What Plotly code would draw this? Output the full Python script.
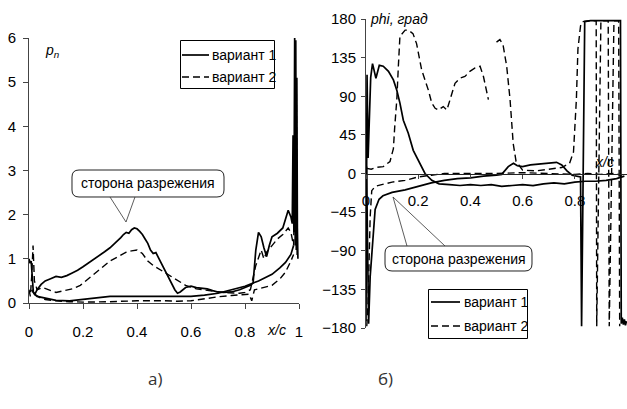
import plotly.graph_objects as go

W, H = 627, 409

# ---------------- data: panel a) p_n vs x/c ----------------
a_v1_upper_x = [0.0, 0.004, 0.008, 0.012, 0.016, 0.022, 0.03, 0.045, 0.06, 0.08, 0.1, 0.12, 0.14, 0.16, 0.18,
                0.2, 0.22, 0.24, 0.26, 0.28, 0.3, 0.32, 0.34, 0.35, 0.36, 0.37, 0.38, 0.39, 0.4, 0.41, 0.42,
                0.43, 0.44, 0.45, 0.46, 0.47, 0.48, 0.5, 0.52, 0.54, 0.55, 0.56, 0.58, 0.6, 0.62, 0.64, 0.66,
                0.68, 0.7, 0.72, 0.75, 0.78, 0.8, 0.82, 0.83, 0.84, 0.85, 0.86, 0.87, 0.88, 0.89, 0.9, 0.92,
                0.94, 0.96, 0.97, 0.975, 0.978, 0.981, 0.984, 0.986, 0.988, 0.99, 0.992, 0.994, 0.996]
a_v1_upper_y = [1.0, 0.9, 0.95, 0.5, 0.25, 0.2, 0.3, 0.42, 0.5, 0.55, 0.6, 0.58, 0.62, 0.68, 0.74,
                0.82, 0.9, 0.98, 1.06, 1.16, 1.25, 1.36, 1.48, 1.55, 1.6, 1.58, 1.66, 1.7, 1.68, 1.62, 1.55,
                1.45, 1.35, 1.2, 1.12, 1.14, 1.02, 0.8, 0.55, 0.3, 0.22, 0.25, 0.35, 0.38, 0.35, 0.33, 0.32,
                0.28, 0.25, 0.24, 0.25, 0.3, 0.35, 0.4, 0.45, 1.2, 1.6, 1.5, 1.25, 1.05, 1.3, 1.5, 1.58,
                1.7, 2.1, 1.95, 1.8, 3.8, 1.6, 6.0, 1.3, 5.95, 1.2, 5.1, 1.7, 1.0]
a_v1_lower_x = [0.01, 0.02, 0.03, 0.05, 0.08, 0.1, 0.15, 0.2, 0.25, 0.3, 0.4, 0.5, 0.6, 0.65, 0.7, 0.75,
                0.8, 0.85, 0.9, 0.93, 0.95, 0.97, 0.98]
a_v1_lower_y = [0.3, 0.2, 0.15, 0.12, 0.08, 0.06, 0.05, 0.08, 0.12, 0.15, 0.15, 0.15, 0.15, 0.18, 0.22, 0.3,
                0.38, 0.5, 0.65, 0.8, 0.92, 1.1, 1.3]
a_v2_upper_x = [0.0, 0.005, 0.01, 0.015, 0.02, 0.03, 0.05, 0.07, 0.1, 0.13, 0.16, 0.19, 0.22, 0.25, 0.28,
                0.3, 0.33, 0.36, 0.38, 0.4, 0.42, 0.44, 0.46, 0.48, 0.5, 0.54, 0.58, 0.62, 0.66, 0.7, 0.74,
                0.78, 0.8, 0.82, 0.84, 0.86, 0.87, 0.88, 0.9, 0.92, 0.94, 0.96, 0.97, 0.98, 0.985, 0.99, 0.993]
a_v2_upper_y = [0.3, 0.15, 0.6, 1.3, 0.5, 0.3, 0.35, 0.3, 0.24, 0.28, 0.32, 0.4, 0.55, 0.7, 0.85,
                0.95, 1.05, 1.15, 1.18, 1.2, 1.12, 0.95, 0.85, 0.78, 0.7, 0.55, 0.4, 0.32, 0.28, 0.25, 0.23,
                0.22, 0.24, 0.3, 0.85, 1.2, 1.0, 1.15, 1.3, 1.45, 1.55, 1.7, 1.6, 1.3, 3.0, 5.0, 1.0]
a_v2_lower_x = [0.02, 0.04, 0.06, 0.1, 0.15, 0.2, 0.3, 0.4, 0.5, 0.55, 0.6, 0.65, 0.7, 0.75, 0.8, 0.815,
                0.825, 0.835, 0.85, 0.9, 0.93, 0.95, 0.97, 0.98]
a_v2_lower_y = [0.2, 0.12, 0.08, 0.05, 0.03, 0.02, 0.03, 0.05, 0.05, 0.04, 0.05, 0.1, 0.14, 0.17, 0.2, 0.2,
                0.05, 0.3, 0.32, 0.4, 0.55, 0.7, 0.95, 1.1]

# ---------------- data: panel б) phi vs x/c ----------------
b_v1_upper_x = [0.0, 0.004, 0.008, 0.012, 0.018, 0.025, 0.038, 0.051, 0.066, 0.086, 0.105, 0.118, 0.13, 0.143,
                0.162, 0.181, 0.207, 0.226, 0.252, 0.28, 0.32, 0.36, 0.4, 0.44, 0.48, 0.52, 0.56, 0.6, 0.64,
                0.68, 0.72, 0.76, 0.8, 0.84, 0.88, 0.92, 0.96, 0.98, 0.99]
b_v1_upper_y = [-172, 115, 18, 70, 112, 128, 111, 126, 125, 119, 109, 97, 82, 62,
                47, 27, 12, 0, -8, -12, -13, -14, -13, -14, -13, -15, -14, -13, -14,
                -12, -11, -12, -10, -9, -9, -8, -6, -4, -3]
b_v1_lower_x = [0.002, 0.006, 0.01, 0.016, 0.022, 0.03, 0.035, 0.05, 0.065, 0.1, 0.15, 0.2, 0.25, 0.3, 0.35,
                0.4, 0.45, 0.5, 0.52, 0.545, 0.565, 0.58, 0.6, 0.63, 0.66, 0.7, 0.73, 0.75, 0.77, 0.79, 0.81,
                0.822, 0.826, 0.838, 0.86, 0.9, 0.94, 0.975, 0.978, 0.982, 0.986, 0.99, 0.994, 0.998]
b_v1_lower_y = [8, -60, -175, -120, -95, -55, -42, -30, -26, -22, -19, -15, -11, -8, -6,
                -5, -3, -2, -1, 8, 12, 9, 8, 10, 11, 12, 13, 10, 3, -2, -3,
                -4, -178, 177, 178, 178, 178, 178, -175, -168, -176, -170, -177, -172]
b_v2_upper1_x = [0.003, 0.02, 0.038, 0.066, 0.092, 0.105, 0.11, 0.118, 0.124, 0.13, 0.15, 0.162, 0.18, 0.194,
                 0.213, 0.226, 0.239, 0.252, 0.265, 0.277, 0.296, 0.31, 0.322, 0.341, 0.36, 0.379, 0.398,
                 0.418, 0.437, 0.45, 0.469]
b_v2_upper1_y = [6, 5, 7, 8, 14, 29, 54, 86, 125, 160, 167, 167, 163, 151,
                 121, 109, 97, 82, 76, 74, 78, 74, 86, 105, 111, 113, 119,
                 123, 125, 113, 86]
b_v2_upper2_x = [0.5, 0.513, 0.525, 0.539, 0.552, 0.564, 0.575, 0.6, 0.65, 0.7, 0.75, 0.78, 0.795, 0.806,
                 0.812, 0.822, 0.83, 0.86, 0.882, 0.884, 0.9, 0.928, 0.932, 0.95, 0.968, 0.972]
b_v2_upper2_y = [153, 156, 150, 125, 86, 35, 14, 4, 3, 5, 7, 12, 25, 86,
                 145, 172, 177, 178, 178, -178, 178, 178, -178, 178, 178, -178]
b_v2_lower_x = [0.003, 0.008, 0.012, 0.016, 0.022, 0.035, 0.06, 0.1, 0.15, 0.2, 0.25, 0.3, 0.4, 0.5, 0.6,
                0.7, 0.8, 0.85, 0.9, 0.95, 0.98]
b_v2_lower_y = [-178, -150, -100, -50, -20, -15, -13, -10, -8, -4, -2, 0, 0, 0, 1,
                0, -1, 0, -1, 0, -2]

a_yticks = [0, 1, 2, 3, 4, 5, 6]
a_xticks = [0, 0.2, 0.4, 0.6, 0.8, 1]
a_xticklabels = ["0", "0.2", "0.4", "0.6", "0.8", "1"]
b_yticks = [180, 135, 90, 45, 0, -45, -90, -135, -180]
b_xticks = [0, 0.2, 0.4, 0.6, 0.8]
b_xticklabels = ["0", "0.2", "0.4", "0.6", "0.8"]
series_names = ["вариант 1", "вариант 2"]


def join(*parts):
    xs, ys = [], []
    for i in range(0, len(parts), 2):
        if xs:
            xs.append(None)
            ys.append(None)
        xs += parts[i]
        ys += parts[i + 1]
    return xs, ys


FONT = "Liberation Sans, Arial, sans-serif"
SOLID = dict(color="black", width=1.7)
DASH = dict(color="black", width=1.4, dash="7px,4px")

fig = go.Figure()
x, y = join(a_v1_upper_x, a_v1_upper_y, a_v1_lower_x, a_v1_lower_y)
fig.add_trace(go.Scatter(x=x, y=y, mode="lines", line=SOLID, name=series_names[0],
                         xaxis="x", yaxis="y", connectgaps=False))
x, y = join(a_v2_upper_x, a_v2_upper_y, a_v2_lower_x, a_v2_lower_y)
fig.add_trace(go.Scatter(x=x, y=y, mode="lines", line=DASH, name=series_names[1],
                         xaxis="x", yaxis="y", connectgaps=False))
x, y = join(b_v1_upper_x, b_v1_upper_y, b_v1_lower_x, b_v1_lower_y)
fig.add_trace(go.Scatter(x=x, y=y, mode="lines", line=SOLID, name=series_names[0],
                         xaxis="x2", yaxis="y2", connectgaps=False))
x, y = join(b_v2_upper1_x, b_v2_upper1_y, b_v2_upper2_x, b_v2_upper2_y, b_v2_lower_x, b_v2_lower_y)
fig.add_trace(go.Scatter(x=x, y=y, mode="lines", line=DASH, name=series_names[1],
                         xaxis="x2", yaxis="y2", connectgaps=False))


def px(x):
    return x / W


def py(y):
    return 1 - y / H


AXC = "#444444"
ydomA = [py(303), py(38)]
ydomB = [py(328), py(19)]
zeroB = (ydomB[0] + ydomB[1]) / 2

axis_font = dict(family=FONT, size=15, color="black")
fig.update_layout(
    width=W, height=H, margin=dict(l=0, r=0, t=0, b=0, autoexpand=False),
    paper_bgcolor="white", plot_bgcolor="rgba(0,0,0,0)",
    font=dict(family=FONT, size=14, color="black"),
    showlegend=False,
    xaxis=dict(domain=[px(29), px(299)], range=[0, 1], anchor="y",
               tickvals=a_xticks, ticktext=a_xticklabels, ticks="outside", ticklen=5,
               tickcolor=AXC, showline=True, linecolor=AXC, linewidth=1, showgrid=False,
               zeroline=False, tickfont=axis_font, ticklabelstandoff=10, automargin=False),
    yaxis=dict(domain=ydomA, range=[0, 6], anchor="x",
               tickvals=a_yticks, ticks="outside", ticklen=5, tickcolor=AXC,
               showline=True, linecolor=AXC, linewidth=1, showgrid=False, zeroline=False,
               tickfont=axis_font, ticklabelstandoff=4, automargin=False),
    xaxis2=dict(domain=[px(366), 1.0], range=[0, 1.0], anchor="free", position=zeroB,
                tickvals=b_xticks, ticktext=b_xticklabels, ticks="outside", ticklen=4,
                tickcolor=AXC, showline=True, linecolor="#222222", linewidth=1, showgrid=False,
                zeroline=False, tickfont=axis_font, ticklabelstandoff=9, automargin=False),
    yaxis2=dict(domain=ydomB, range=[-180, 180], anchor="x2",
                tickvals=b_yticks, ticks="outside", ticklen=4, tickcolor=AXC,
                showline=True, linecolor=AXC, linewidth=1, showgrid=False, zeroline=False,
                tickfont=axis_font, ticklabelstandoff=2, automargin=False),
)


def rrect(x0, y0, x1, y1, r):
    X = lambda v: f"{px(v):.5f}"
    Y = lambda v: f"{py(v):.5f}"
    return (f"M{X(x0 + r)},{Y(y0)} L{X(x1 - r)},{Y(y0)} Q{X(x1)},{Y(y0)} {X(x1)},{Y(y0 + r)} "
            f"L{X(x1)},{Y(y1 - r)} Q{X(x1)},{Y(y1)} {X(x1 - r)},{Y(y1)} "
            f"L{X(x0 + r)},{Y(y1)} Q{X(x0)},{Y(y1)} {X(x0)},{Y(y1 - r)} "
            f"L{X(x0)},{Y(y0 + r)} Q{X(x0)},{Y(y0)} {X(x0 + r)},{Y(y0)} Z")


def poly(points):
    return "M" + " L".join(f"{px(a):.5f},{py(b):.5f}" for a, b in points)


def pline(x0, y0, x1, y1, **kw):
    return dict(type="line", xref="paper", yref="paper", x0=px(x0), y0=py(y0), x1=px(x1), y1=py(y1),
                line=kw, layer="above")


def box(x0, y0, x1, y1):
    fill = dict(type="rect", xref="paper", yref="paper", layer="above",
                x0=px(x0), x1=px(x1), y0=py(y1), y1=py(y0),
                line=dict(width=0), fillcolor="white")
    k = dict(color="black", width=1)
    return [fill,
            pline(x0, y0, x1, y0, **k), pline(x1, y0, x1, y1, **k),
            pline(x1, y1, x0, y1, **k), pline(x0, y1, x0, y0, **k)]


shapes = [
    # callouts
    dict(type="path", xref="paper", yref="paper", path=rrect(72, 170, 224, 197, 7), layer="above",
         line=dict(color="#222222", width=1), fillcolor="white"),
    dict(type="path", xref="paper", yref="paper", path=poly([(110, 197), (126, 222), (135, 197)]),
         line=dict(color="#333333", width=0.8), layer="above"),
    dict(type="path", xref="paper", yref="paper", path=rrect(385, 246, 532, 271, 7), layer="above",
         line=dict(color="#222222", width=1), fillcolor="white"),
    dict(type="path", xref="paper", yref="paper", path=poly([(407, 246), (393, 197), (445, 246)]),
         line=dict(color="#333333", width=0.8), layer="above"),
]
# legend boxes
shapes += box(180.5, 40.5, 274.5, 88.5)
shapes += box(428.5, 289.5, 527.5, 338.5)
# legend samples
shapes += [
    pline(182, 55, 209, 55, color="black", width=1.7),
    pline(182, 77, 209, 77, color="black", width=1.4, dash="7px,4px"),
    pline(431, 302, 460, 302, color="black", width=1.7),
    pline(431, 326, 460, 326, color="black", width=1.4, dash="7px,4px"),
]
fig.update_layout(shapes=shapes)

LEG = dict(family=FONT, size=14, color="black")
ann = [
    dict(x=px(148), y=py(183.5), text="сторона разрежения"),
    dict(x=px(458.5), y=py(258.5), text="сторона разрежения"),
    dict(x=px(210), y=py(55), text=series_names[0], xanchor="left", font=LEG),
    dict(x=px(210), y=py(77), text=series_names[1], xanchor="left", font=LEG),
    dict(x=px(462), y=py(302), text=series_names[0], xanchor="left", font=LEG),
    dict(x=px(462), y=py(326), text=series_names[1], xanchor="left", font=LEG),
    dict(x=px(52), y=py(51), text="<i>p</i><sub><i>n</i></sub>", font=dict(family=FONT, size=14)),
    dict(x=px(399), y=py(19), text="<i>phi, град</i>", font=dict(family=FONT, size=14)),
    dict(x=px(276), y=py(330), text="<i>x/c</i>", font=dict(family=FONT, size=14)),
    dict(x=px(604), y=py(162), text="<i>x/c</i>", font=dict(family=FONT, size=14)),
    dict(x=px(155), y=py(378), text="а)", font=dict(family="Open Sans", size=17, color="#333333")),
    dict(x=px(385), y=py(378), text="б)", font=dict(family="Open Sans", size=17, color="#333333")),
]
for a in ann:
    a.update(xref="paper", yref="paper", showarrow=False, yanchor="middle")
    a.setdefault("xanchor", "center")
    a.setdefault("font", dict(family=FONT, size=14, color="black"))
fig.update_layout(annotations=ann)

fig.write_html("out.html")
